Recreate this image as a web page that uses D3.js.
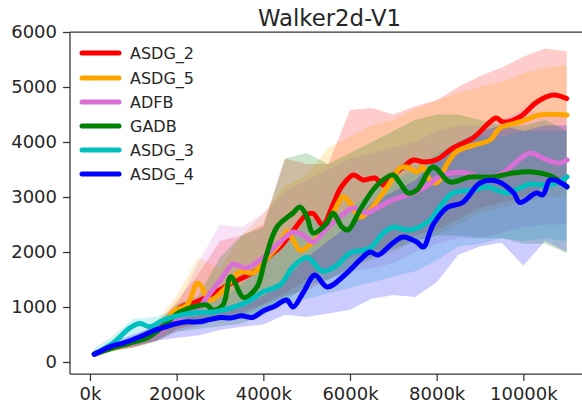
<!DOCTYPE html>
<html><head><meta charset="utf-8">
<script src="https://cdn.jsdelivr.net/npm/d3@7/dist/d3.min.js"></script>
<style>
body{margin:0;background:#fff}
svg{display:block}
text{font-family:"DejaVu Sans",sans-serif;fill:#262626}
</style>
</head><body>
<svg id="chart" width="582" height="403"></svg>
<script>
// ---------- data (x in thousands of steps) ----------
const TITLE = "Walker2d-V1";
const SERIES_NAMES = ["ASDG_2","ASDG_5","ADFB","GADB","ASDG_3","ASDG_4"];
const SERIES_COLORS = ["#ff0000","#ffa500","#da70d6","#008000","#00bfbf","#0000ff"];
const X_TICKS = [0,2000,4000,6000,8000,10000];
const Y_TICKS = [0,1000,2000,3000,4000,5000,6000];

const asdg2_x = [100,500,1000,1500,2077,2470,2900,3300,3600,3900,4100,4400,4700,5000,5150,5370,5600,5800,6080,6300,6580,6770,7000,7230,7460,7700,8000,8380,8840,9370,9530,9920,10310,10690,11000];
const asdg2_y = [140,260,360,520,990,1100,1270,1450,1560,1700,1900,2100,2400,2680,2700,2491,2850,3182,3400,3309,3345,3218,3400,3545,3673,3636,3680,3891,4073,4436,4364,4455,4727,4855,4790];

const asdg5_x = [100,500,923,1315,1685,1915,2239,2492,2770,3069,3462,3762,4085,4385,4550,4700,4850,5008,5377,5608,5839,6000,6231,6462,6692,6923,7154,7315,7546,7685,7846,8008,8239,8469,8839,9231,9462,9923,10385,11008];
const asdg5_y = [140,250,330,450,620,909,1036,1436,1127,1300,1640,1618,1891,2164,2380,2200,2030,2091,2400,2709,3000,2890,2636,2764,3000,3255,3527,3545,3455,3545,3300,3260,3600,3830,3940,4036,4255,4364,4491,4491];

const adfb_x = [100,500,1000,1500,2000,2500,2700,3050,3300,3600,4000,4385,4685,4915,5146,5469,5770,6070,6390,6620,6990,7385,7770,8080,8540,9160,9530,9760,10150,10540,10850,11008];
const adfb_y = [140,260,350,500,780,980,1180,1530,1780,1709,1900,2182,2364,2309,2182,2436,2636,2800,2709,2800,2945,3050,3200,3380,3450,3345,3436,3582,3800,3673,3618,3673];

const gadb_x = [100,500,923,1315,1685,1915,2077,2470,2700,2839,3069,3250,3550,3854,4038,4315,4685,4846,5008,5146,5469,5608,5815,5954,6231,6531,6762,6993,7154,7339,7546,7915,8308,8769,9300,9762,10223,10685,11008];
const gadb_y = [150,250,345,436,640,818,909,1018,1036,945,1036,1550,1170,1364,1855,2455,2709,2818,2636,2345,2527,2709,2455,2400,2764,3127,3309,3400,3255,3073,3127,3545,3273,3364,3364,3436,3455,3364,3182];

const asdg3_x = [100,531,923,1154,1385,1685,2077,2470,2839,3231,3623,4000,4385,4685,5008,5377,5700,6000,6462,6762,6993,7385,7846,8077,8377,8839,9162,9623,9923,10154,10546,10777,11008];
const asdg3_y = [140,345,620,700,640,760,850,900,910,980,1090,1280,1400,1730,1900,1650,1760,1980,2070,2340,2450,2400,2580,2820,3073,3127,3180,3073,3164,3236,3218,3255,3364];

const asdg4_x = [100,300,500,750,1000,1250,1500,1750,2000,2250,2500,2750,3000,3250,3500,3750,4000,4250,4540,4685,4915,5190,5470,5930,6230,6460,6650,6990,7220,7540,7690,7920,8240,8600,9000,9380,9770,9920,10300,10450,10600,10720,11008];
const asdg4_y = [140,220,290,340,410,490,580,640,700,730,730,770,810,800,840,810,930,1010,1127,1000,1255,1582,1364,1618,1855,2000,1945,2164,2273,2182,2091,2500,2810,2900,3255,3290,3080,2900,3073,3040,3300,3310,3190];

// shaded bands, sampled on a common grid
const BAND_X = [100,500,1000,1500,2000,2500,3000,3500,4000,4500,5000,5500,6000,6500,7000,7500,8000,8500,9000,9500,10000,10500,11000];
const asdg2_hi = [200,330,450,650,1100,1600,2200,2300,2500,3700,3600,3600,4580,4620,4500,4650,4760,5000,5200,5350,5550,5700,5650];
const asdg2_lo = [90,200,270,380,600,700,800,900,1050,1250,1500,1700,1900,2000,2100,2300,2400,2600,2800,2900,3000,3200,3200];
const asdg5_hi = [200,320,420,700,1200,1900,1700,2300,2700,3200,3400,3900,4100,4300,4400,4600,4750,4900,5000,5100,5250,5350,5400];
const asdg5_lo = [90,200,260,370,600,700,750,850,1000,1200,1300,1500,1700,1850,2000,2200,2300,2500,2700,2800,2900,3000,3000];
const adfb_hi  = [200,320,420,650,1000,1800,2500,2450,2700,3100,3300,3500,3700,3800,3900,4000,4200,4300,4300,4400,4600,4500,4500];
const adfb_lo  = [90,200,260,370,550,650,750,850,1050,1200,1300,1500,1650,1700,1800,2000,2150,2250,2250,2350,2450,2500,2500];
const gadb_hi  = [200,320,420,650,1050,1200,1900,2300,2450,3700,3800,3600,3800,4000,4200,4400,4500,4500,4400,4300,4300,4400,4200];
const gadb_lo  = [90,200,270,370,550,600,650,700,850,1100,1400,1500,1700,1900,2050,2200,2300,2300,2250,2250,2150,2150,1980];
const asdg3_hi = [250,450,780,820,950,1050,1150,1400,1800,2100,2600,2600,2800,3100,3300,3500,3800,4000,4100,4100,4200,4200,4200];
const asdg3_lo = [100,250,450,550,700,700,800,850,900,1050,1150,1250,1350,1450,1550,1650,1850,2100,2150,2250,2200,2250,2200];
const asdg4_hi = [200,350,500,650,800,850,950,1050,1200,1500,1900,2200,2500,2900,3100,3300,3700,4000,4200,4300,4200,4300,4300];
const asdg4_lo = [80,200,290,380,440,480,580,640,680,860,820,880,950,1150,1220,1180,1450,1950,2100,2170,1750,2200,2000];

const LINES_X = [asdg2_x,asdg5_x,adfb_x,gadb_x,asdg3_x,asdg4_x];
const LINES_Y = [asdg2_y,asdg5_y,adfb_y,gadb_y,asdg3_y,asdg4_y];
const BANDS_HI = [asdg2_hi,asdg5_hi,adfb_hi,gadb_hi,asdg3_hi,asdg4_hi];
const BANDS_LO = [asdg2_lo,asdg5_lo,adfb_lo,gadb_lo,asdg3_lo,asdg4_lo];

// ---------- drawing ----------
const svg = d3.select("#chart");
const L = 70, R = 589, T = 32, B = 374;
const x = d3.scaleLinear().domain([-461, 11515]).range([L, R]);
const y = d3.scaleLinear().domain([-218, 6000]).range([B, T]);
const AX = "#333333";

svg.append("defs").append("clipPath").attr("id","clip")
  .append("rect").attr("x",L).attr("y",T).attr("width",R-L).attr("height",B-T);

const plot = svg.append("g").attr("clip-path","url(#clip)");

// bands
SERIES_NAMES.forEach((name,i)=>{
  const pts = BAND_X.map((v,j)=>({x:v,lo:BANDS_LO[i][j],hi:BANDS_HI[i][j]}));
  const area = d3.area().x(d=>x(d.x)).y0(d=>y(d.lo)).y1(d=>y(d.hi)).curve(d3.curveLinear);
  plot.append("path").datum(pts).attr("d",area)
    .attr("fill",SERIES_COLORS[i]).attr("fill-opacity",0.2).attr("stroke","none");
});

// lines
SERIES_NAMES.forEach((name,i)=>{
  const pts = LINES_X[i].map((v,j)=>({x:v,y:LINES_Y[i][j]}));
  const line = d3.line().x(d=>x(d.x)).y(d=>y(d.y)).curve(d3.curveCatmullRom.alpha(0.5));
  plot.append("path").datum(pts).attr("d",line)
    .attr("fill","none").attr("stroke",SERIES_COLORS[i]).attr("stroke-width",5)
    .attr("stroke-linejoin","round").attr("stroke-linecap","round");
});

// axes
const xAxis = d3.axisBottom(x).tickValues(X_TICKS).tickFormat(d=>d+"k").tickSize(7).tickPadding(6);
const gx = svg.append("g").attr("transform",`translate(0,${B})`).call(xAxis);
const yAxis = d3.axisLeft(y).tickValues(Y_TICKS).tickFormat(d=>String(d)).tickSize(7).tickPadding(6);
const gy = svg.append("g").attr("transform",`translate(${L},0)`).call(yAxis);
[gx,gy].forEach(g=>{
  g.attr("font-size",null).attr("font-family",null);
  g.select(".domain").remove();
  g.selectAll(".tick line").attr("stroke",AX).attr("stroke-width",1.25);
  g.selectAll(".tick text").attr("font-size","18px").attr("fill","#262626")
    .style("font-family","'DejaVu Sans',sans-serif");
});

// spines
const sp = svg.append("g").attr("stroke",AX).attr("stroke-width",1.25).attr("fill","none");
sp.append("line").attr("x1",L).attr("x2",L).attr("y1",T).attr("y2",B);
sp.append("line").attr("x1",L).attr("x2",R).attr("y1",B).attr("y2",B);
sp.append("line").attr("x1",L).attr("x2",R).attr("y1",T).attr("y2",T);
sp.append("line").attr("x1",R).attr("x2",R).attr("y1",T).attr("y2",B);

// title
svg.append("text").attr("x",(L+R)/2).attr("y",26).attr("text-anchor","middle")
  .attr("font-size","22.8px").text(TITLE);

// legend
const legY = [53,78,102,126,150,174];
const leg = svg.append("g");
SERIES_NAMES.forEach((name,i)=>{
  leg.append("line").attr("x1",82).attr("x2",119).attr("y1",legY[i]).attr("y2",legY[i])
    .attr("stroke",SERIES_COLORS[i]).attr("stroke-width",5).attr("stroke-linecap","round");
  leg.append("text").attr("x",130).attr("y",legY[i]).attr("dy","0.36em")
    .attr("font-size","16px").text(name);
});
</script>
</body></html>
